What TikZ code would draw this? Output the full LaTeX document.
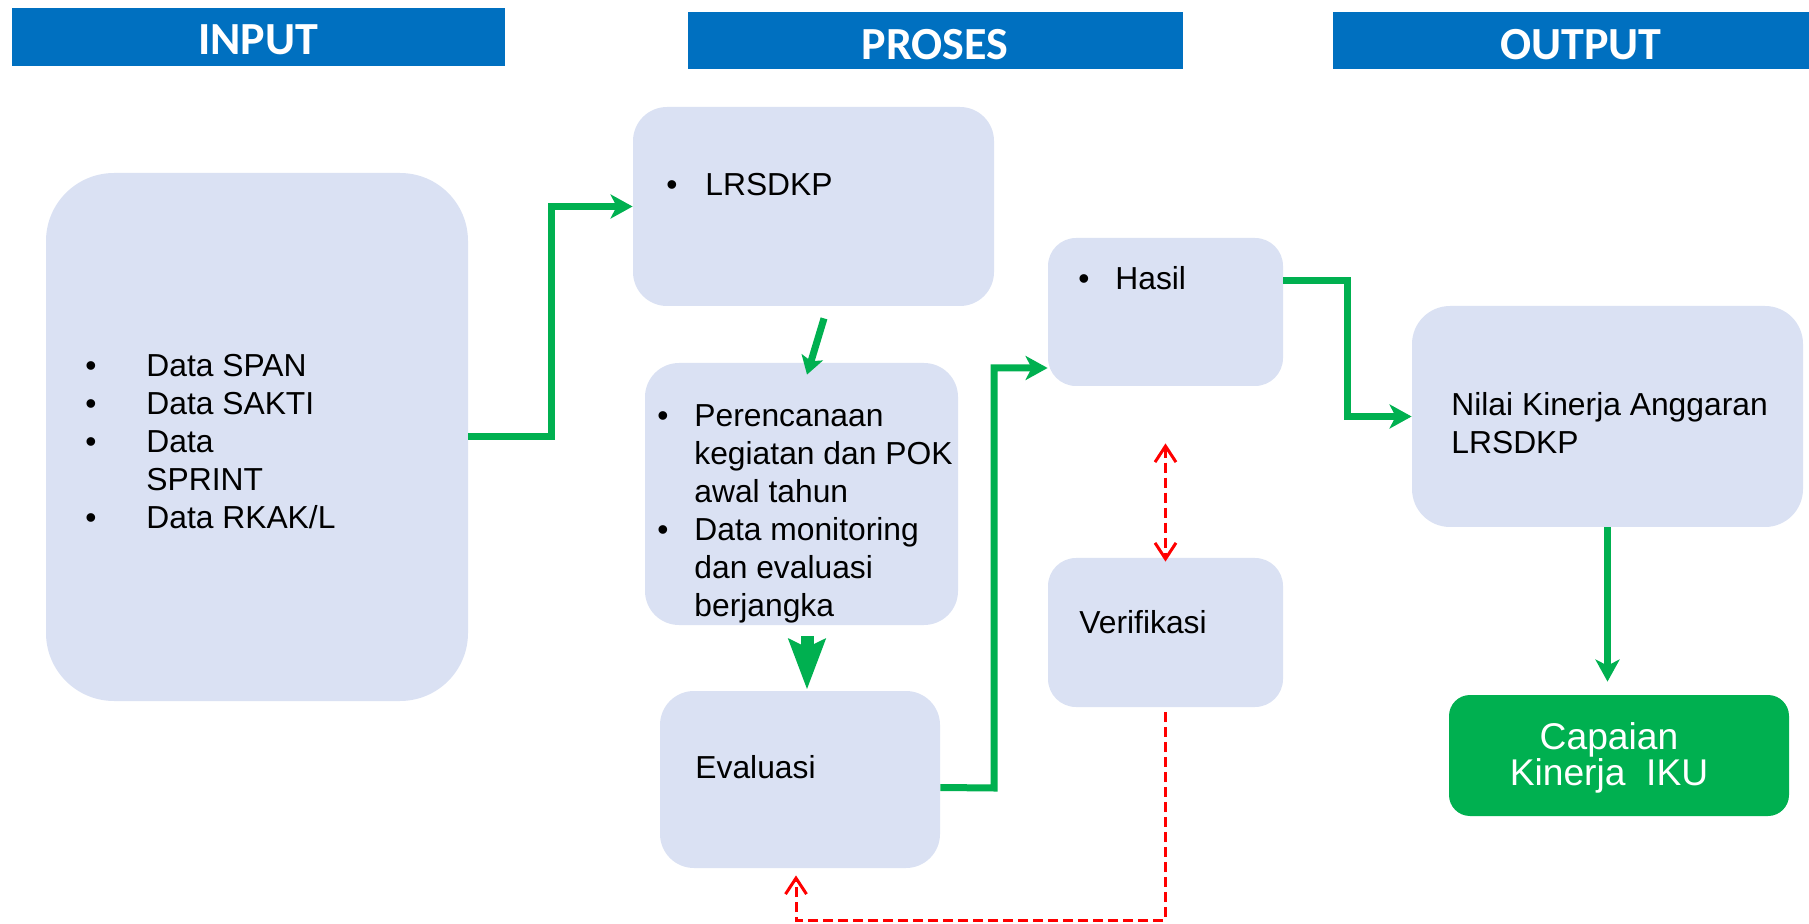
\documentclass[tikz,border=0pt]{standalone}
\usepackage{fontspec}
\setmainfont{Liberation Sans}
\newfontfamily\hdrfont{Carlito}
\usetikzlibrary{arrows.meta,calc}
\definecolor{hdrblue}{HTML}{0070C0}
\definecolor{boxfill}{HTML}{DAE1F3}
\definecolor{ggreen}{HTML}{00B050}
\definecolor{rred}{HTML}{FF0000}
\begin{document}
\begin{tikzpicture}[x=0.5pt,y=-0.5pt,
 hdr/.style={fill=hdrblue, draw=none, inner sep=0pt},
 hdrtext/.style={text=white, font=\hdrfont\bfseries\fontsize{23}{23}\selectfont, inner sep=0pt},
 box/.style={fill=boxfill, draw=none, inner sep=0pt},
 txt/.style={font=\fontsize{15.9}{19}\selectfont, inner sep=0pt, anchor=base west, text=black},
 garrow/.style={draw=ggreen, line width=3.5pt, -{Stealth[length=11pt,width=12pt,inset=3pt]}},
 rdash/.style={draw=rred, line width=1.5pt, dash pattern=on 5pt off 2.5pt},
 rtip/.tip={Straight Barb[length=8pt,width=10.5pt]},
]
\useasboundingbox (0,0) rectangle (1809,924);

% headers
\node[hdr, minimum width=246.5pt, minimum height=29pt] (hin) at (258.5,37) {};
\node[hdrtext] (thin) at (258,40) {INPUT};
\node[hdr, minimum width=247.5pt, minimum height=28.5pt] (hpr) at (935.5,40.5) {};
\node[hdrtext] (thpr) at (935,45) {PROSES};
\node[hdr, minimum width=238pt, minimum height=28.5pt] (hou) at (1571,40.5) {};
\node[hdrtext] (thou) at (1581,45) {OUTPUT};

% boxes
\node[box, rounded corners=34pt, minimum width=211pt, minimum height=264pt] (inp) at (257,437) {};
\node[box, rounded corners=17pt, minimum width=180.5pt, minimum height=99.5pt] (lrs) at (813.5,206.5) {};
\node[box, rounded corners=17pt, minimum width=156.5pt, minimum height=131pt] (per) at (801.5,494) {};
\node[box, rounded corners=17pt, minimum width=140pt, minimum height=88.5pt] (eva) at (800,779.5) {};
\node[box, rounded corners=14pt, minimum width=117.5pt, minimum height=74pt] (has) at (1165.5,312) {};
\node[box, rounded corners=14pt, minimum width=117.5pt, minimum height=74.5pt] (ver) at (1165.5,632.5) {};
\node[box, rounded corners=19pt, minimum width=195.5pt, minimum height=110.5pt] (nil) at (1607.5,416.5) {};
\node[fill=ggreen, draw=none, inner sep=0pt, rounded corners=10.5pt, minimum width=170pt, minimum height=60.5pt] (cap) at (1619,755.5) {};

% texts
\node[txt] (tinp) at (85,377) {\begin{tabular}[t]{@{}p{30.5pt}@{}l@{}}\textbullet & Data SPAN\\ \textbullet & Data SAKTI\\ \textbullet & Data\\ & SPRINT\\ \textbullet & Data RKAK/L\end{tabular}};
\node[txt] (tlrs) at (666,196) {\makebox[19.5pt][l]{\textbullet}LRSDKP};
\node[txt] (tper) at (657,427) {\begin{tabular}[t]{@{}p{18.5pt}@{}l@{}}\textbullet & Perencanaan\\ & kegiatan dan POK\\ & awal tahun\\ \textbullet & Data monitoring\\ & dan evaluasi\\ & berjangka\end{tabular}};
\node[txt] (teva) at (695,778) {Evaluasi};
\node[txt] (thas) at (1078,290) {\makebox[18.5pt][l]{\textbullet}Hasil};
\node[txt] (tver) at (1079,633) {Verifikasi};
\node[txt] (tnil) at (1451,416) {\begin{tabular}[t]{@{}l@{}}Nilai Kinerja Anggaran\\LRSDKP\end{tabular}};
\node[inner sep=0pt, anchor=base, text=white, font=\fontsize{18.6}{16.5}\selectfont] (tcap) at (1609,749) {\begin{tabular}[t]{@{}c@{}}Capaian\\Kinerja\ \ IKU\end{tabular}};

% green connectors
\draw[garrow] (inp.east) -- (551,437) |- (lrs.west);
\draw[draw=ggreen, line width=3.5pt, -{Stealth[length=9pt,width=11pt,inset=2pt]}] ($(lrs.south)+(10.5,12)$) -- ($(per.north)+(5.5,12)$);
\draw[draw=ggreen, line width=6.5pt, -{Stealth[length=25pt,width=18pt,inset=4pt]}] ($(per.south)+(5.5,11)$) -- ($(eva.north)+(7,-1)$);
\draw[garrow] ($(eva.east)+(0,8)$) -- (994,788) |- ($(has.west)+(0,56)$);
\draw[garrow] ($(has.east)+(0,-31)$) -| ($(nil.west)+(-64,0)$) -- (nil.west);
\draw[garrow, shorten >=6.5pt] (nil.south) -- (nil.south |- cap.north);

% red dashed connectors
\draw[rdash, rtip-rtip, shorten <=28.5pt, shorten >=-2pt] (has.south) -- (ver.north);
\coordinate (rb) at (1165.5,920);
\draw[rdash, -rtip] ($(ver.south)+(0,5)$) -- (rb) -| ($(eva.south)+(-4,7)$);
\end{tikzpicture}
\end{document}
